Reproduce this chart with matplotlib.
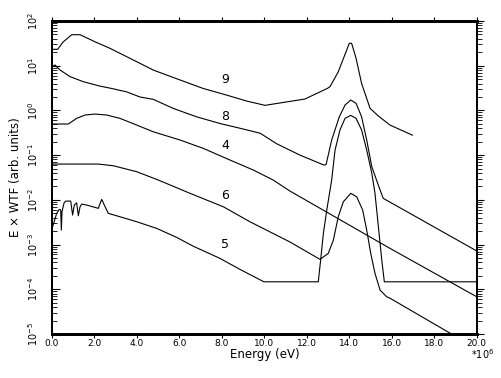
import matplotlib
matplotlib.use("Agg")
import matplotlib.pyplot as plt
from matplotlib.ticker import FixedLocator, FixedFormatter, LogLocator, NullFormatter

############################# DATOS #############################
# energia en unidades de 1e6 eV

e9 = [0, 0.27, 0.52, 0.93, 1.32, 2.02, 2.73, 3.99, 4.77, 6.03, 7.12, 8.23, 9.17, 10.03,
      11.91, 12.96, 13.09, 13.48, 14.0, 14.11, 14.32, 14.58, 14.98, 15.37, 15.92, 16.97]
w9 = [23.3, 23.3, 33.9, 49.4, 49.4, 34.4, 24.5, 12.3, 8.0, 4.8, 3.1, 2.2, 1.62, 1.30,
      1.80, 3.1, 3.39, 7.3, 31.7, 31.7, 14.6, 4.0, 1.11, 0.75, 0.47, 0.28]

e8 = [0, 0.14, 0.38, 0.85, 1.47, 2.26, 2.81, 3.52, 4.14, 4.77, 5.71, 6.81, 7.91, 8.85,
      9.80, 10.58, 11.68, 12.81, 12.91, 13.17, 13.53, 13.80, 14.07, 14.32, 14.58, 14.82,
      15.06, 15.45, 15.60, 20.0]
w8 = [9.5, 10.4, 8.0, 5.7, 4.4, 3.5, 3.1, 2.6, 2.0, 1.77, 1.11, 0.72, 0.51, 0.40,
      0.31, 0.18, 0.10, 0.060, 0.062, 0.218, 0.72, 1.32, 1.71, 1.44, 0.72, 0.218,
      0.055, 0.0166, 0.0108, 7.2e-4]

e4 = [0, 0.77, 1.16, 1.55, 2.02, 2.58, 3.20, 3.99, 4.77, 6.03, 7.12, 8.38, 9.48, 10.42,
      11.21, 15.92, 20.0]
w4 = [0.497, 0.497, 0.665, 0.789, 0.830, 0.789, 0.665, 0.471, 0.333, 0.218, 0.142,
      0.0778, 0.0465, 0.0277, 0.0157, 8.2e-4, 6.8e-5]

e6 = [0, 2.18, 2.89, 3.99, 5.01, 6.50, 8.07, 9.32, 11.21, 12.62, 13.01, 13.25, 13.48,
      13.72, 14.07, 14.35, 14.63, 14.82, 15.01, 15.21, 15.45, 15.76, 15.92, 20.0]
w6 = [0.0632, 0.0632, 0.0579, 0.0426, 0.0277, 0.0140, 7.0e-3, 3.24e-3, 1.14e-3, 4.67e-4,
      6.35e-4, 1.26e-3, 4.19e-3, 9.06e-3, 0.0140, 0.0117, 5.92e-3, 2.11e-3, 6.35e-4,
      2.27e-4, 9.6e-5, 6.8e-5, 6.3e-5, 4.7e-6]

e5 = [0.03, 0.22, 0.34, 0.41, 0.44, 0.47, 0.57, 0.66, 0.88, 0.97, 1.05, 1.16, 1.24, 1.32,
      1.40, 1.63, 2.18, 2.34, 2.50, 2.65, 3.20, 3.99, 4.93, 5.87, 6.65, 7.91, 8.85, 9.98,
      12.54, 12.65, 12.78, 12.94, 13.17, 13.33, 13.56, 13.80, 14.07, 14.32, 14.58, 14.82,
      15.06, 15.21, 15.37, 15.53, 15.65, 20.0]
w5 = [2.50e-3, 4.99e-3, 6.12e-3, 5.92e-3, 2.11e-3, 5.42e-3, 8.61e-3, 9.40e-3, 9.40e-3,
      4.57e-3, 7.66e-3, 8.61e-3, 4.41e-3, 7.01e-3, 8.05e-3, 7.66e-3, 6.46e-3, 0.01026,
      7.01e-3, 4.99e-3, 4.19e-3, 3.24e-3, 2.30e-3, 1.45e-3, 9.2e-4, 4.91e-4, 2.79e-4,
      1.47e-4, 1.47e-4, 4.50e-4, 1.78e-3, 5.92e-3, 0.0277, 0.130, 0.365, 0.665, 0.776,
      0.665, 0.365, 0.130, 0.0392, 0.0140, 2.50e-3, 4.50e-4, 1.47e-4, 1.47e-4]

etiquetas = ["9", "8", "4", "6", "5"]
etiq_x = [8.15, 8.15, 8.15, 8.15, 8.15]
etiq_y = [5.04, 0.75, 0.162, 0.0128, 1.01e-3]

xticks = [0, 2, 4, 6, 8, 10, 12, 14, 16, 18, 20]
xtick_labels = ["0.0", "2.0", "4.0", "6.0", "8.0", "10.0", "12.0", "14.0", "16.0", "18.0", "20.0"]
yticks = [1e-5, 1e-4, 1e-3, 1e-2, 1e-1, 1e0, 1e1, 1e2]
ytick_labels = ["$10^{-5}$", "$10^{-4}$", "$10^{-3}$", "$10^{-2}$", "$10^{-1}$",
                "$10^{0}$", "$10^{1}$", "$10^{2}$"]

############################# FIGURA #############################

fig = plt.figure(figsize=(5.02, 3.78), dpi=100)
ax = fig.add_axes([0.1036, 0.1164, 0.8460, 0.8280])

for e, w in [(e9, w9), (e8, w8), (e4, w4), (e6, w6), (e5, w5)]:
    ax.plot(e, w, color="black", lw=0.8)

for t, x, y in zip(etiquetas, etiq_x, etiq_y):
    ax.text(x, y, t, fontsize=9, ha="center", va="center")

ax.set_yscale("log")
ax.set_xlim(0, 20)
ax.set_ylim(1e-5, 1e2)

# eje x
ax.xaxis.set_major_locator(FixedLocator(xticks))
ax.xaxis.set_major_formatter(FixedFormatter(xtick_labels))
ax.tick_params(axis="x", which="major", direction="out", top=True, bottom=True,
               length=3, width=0.8, labelsize=6.5, pad=0.5)

# eje y (izquierda hacia dentro, derecha hacia fuera)
ax.yaxis.set_major_locator(FixedLocator(yticks))
ax.yaxis.set_major_formatter(FixedFormatter(ytick_labels))
ax.yaxis.set_minor_locator(LogLocator(base=10, subs=range(2, 10)))
ax.yaxis.set_minor_formatter(NullFormatter())
ax.tick_params(axis="y", which="major", direction="in", left=True, right=False,
               length=6, width=0.8, labelsize=7, pad=9, labelrotation=90)
ax.tick_params(axis="y", which="minor", direction="in", left=True, right=False,
               length=3.5, width=0.6)
for lab in ax.get_yticklabels():
    lab.set_va("center")

ax2 = ax.twinx()
ax2.set_yscale("log")
ax2.set_ylim(1e-5, 1e2)
ax2.yaxis.set_major_locator(FixedLocator(yticks))
ax2.yaxis.set_minor_locator(LogLocator(base=10, subs=range(2, 10)))
ax2.yaxis.set_major_formatter(NullFormatter())
ax2.yaxis.set_minor_formatter(NullFormatter())
ax2.tick_params(axis="y", which="major", direction="out", length=5, width=0.8)
ax2.tick_params(axis="y", which="minor", direction="out", length=3.5, width=0.6)

for a in (ax, ax2):
    a.spines["top"].set_linewidth(2.0)
    a.spines["bottom"].set_linewidth(2.0)
    a.spines["left"].set_linewidth(1.4)
    a.spines["right"].set_linewidth(1.4)

ax.set_xlabel("Energy (eV)", fontsize=8.5, labelpad=0)
ax.set_ylabel("E × WTF (arb. units)", fontsize=8.5, labelpad=3)
fig.text(0.962, 0.062, "*10$^{6}$", fontsize=7, ha="center", va="center")

fig.savefig("out.png", dpi=100)
